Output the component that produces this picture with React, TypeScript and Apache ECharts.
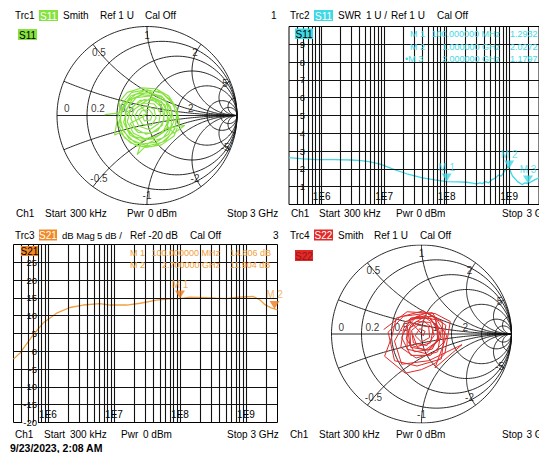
import React, { useEffect, useRef } from 'react';
import * as echarts from 'echarts';

// ---------- data ----------
const SWR_FREQ = [3e5, 5e5, 8.3e5, 1.6e6, 3e6, 4.3e6, 6e6, 8.6e6, 1.36e7, 2.4e7, 4.1e7, 6.5e7, 1e8, 1.5e8, 2.1e8, 2.6e8, 3e8, 3.4e8, 3.7e8, 4.2e8, 4.7e8, 5.3e8, 6e8, 6.7e8, 7.5e8, 8.5e8, 9.5e8, 1e9, 1.13e9, 1.35e9, 1.6e9, 1.8e9, 2e9, 2.3e9, 2.6e9, 3e9];
const SWR_VALUE = [2.63, 2.56, 2.52, 2.52, 2.5, 2.47, 2.4, 2.27, 2.0, 1.7, 1.5, 1.38, 1.29, 1.27, 1.25, 1.2, 1.16, 1.22, 1.17, 1.28, 1.22, 1.4, 1.48, 1.65, 1.6, 1.9, 2.15, 2.03, 1.6, 1.3, 1.12, 1.22, 1.18, 1.3, 1.4, 1.5];
const SWR_MARKER_FREQ = [1e8, 1e9, 2e9];
const SWR_MARKER_VALUE = [1.2932, 2.0272, 1.1797];

const S21_FREQ = [3e5, 3.8e5, 6e5, 8.5e5, 1.35e6, 2.15e6, 3.4e6, 6.1e6, 8.7e6, 1.56e7, 2.5e7, 4.4e7, 7.9e7, 1e8, 1.42e8, 2.5e8, 3.5e8, 5.1e8, 6.5e8, 8.1e8, 1.29e9, 1.63e9, 1.94e9, 2.18e9, 2.4e9, 2.7e9, 3e9];
const S21_DB = [-2.2, -0.4, 4.7, 8.0, 10.7, 12.3, 13.0, 13.4, 13.0, 13.0, 13.5, 14.4, 14.8, 14.806, 15.2, 15.1, 14.9, 14.8, 15.1, 15.2, 15.4, 14.4, 13.1, 12.6, 12.2, 11.904, 11.6];
const S21_MARKER_FREQ = [1e8, 2.7e9];
const S21_MARKER_DB = [14.806, 11.904];

const SWR_TICKS = [1, 2, 3, 4, 5, 6, 7, 8, 9];
const DB_TICKS = [-15, -10, -5, 0, 5, 10, 15, 20, 25];

const R_CIRCLES = [0.2, 0.5, 1, 2, 5, 10];
const X_ARCS = [0.2, 0.5, 1, 2, 5, 10];
const R_LABELS = ['0', '0.2', '0.5', '1', '2'];
const X_LABELS = ['0.5', '1', '2', '5', '-0.5', '-1', '-2', '-5'];

const S11_GAMMA = [
  [-0.47, 0.01], [-0.30, 0.03], [-0.31, 0.15], [-0.22, 0.26], [-0.06, 0.31], [0.10, 0.30], [0.24, 0.22], [0.33, 0.08], [0.36, -0.08], [0.30, -0.23], [0.16, -0.33], [-0.02, -0.36], [-0.18, -0.31], [-0.30, -0.19], [-0.36, -0.22], [-0.33, -0.04],
  [-0.29, 0.12], [-0.17, 0.26], [0.00, 0.29], [0.17, 0.25], [0.29, 0.13], [0.34, -0.03], [0.29, -0.19], [0.17, -0.30], [0.01, -0.34], [-0.14, -0.30], [-0.26, -0.18], [-0.30, -0.02],
  [-0.25, 0.14], [-0.12, 0.24], [0.04, 0.26], [0.19, 0.19], [0.27, 0.05], [0.27, -0.12], [0.18, -0.25], [0.03, -0.30], [-0.11, -0.44], [-0.06, -0.29], [-0.19, -0.22], [-0.26, -0.08],
  [-0.22, 0.08], [-0.12, 0.20], [0.03, 0.22], [0.16, 0.16], [0.23, 0.03], [0.22, -0.11], [0.30, -0.20], [0.42, -0.11], [0.20, -0.15], [0.12, -0.23], [-0.02, -0.26], [-0.15, -0.20], [-0.22, -0.07],
  [-0.18, 0.07], [-0.08, 0.17], [0.06, 0.18], [0.17, 0.09], [0.19, -0.05], [0.12, -0.17], [-0.01, -0.21], [-0.13, -0.15], [-0.18, -0.03],
  [-0.14, 0.07], [-0.04, 0.14], [0.08, 0.13], [0.15, 0.03], [0.13, -0.09], [0.03, -0.16], [-0.09, -0.12], [-0.14, -0.01],
  [-0.10, 0.06], [-0.01, 0.11], [0.08, 0.07], [0.10, -0.03], [0.05, -0.11], [-0.05, -0.10], [-0.10, -0.02],
  [-0.06, 0.05], [0.02, 0.07], [0.06, 0.02], [0.04, -0.05], [-0.03, -0.06], [-0.05, 0.00], [0.00, 0.02],
  [-0.08, 0.12], [0.05, 0.20], [0.20, 0.12], [0.24, -0.05], [0.17, -0.20], [0.02, -0.27], [-0.14, -0.24], [-0.24, -0.12], [-0.24, 0.05], [-0.16, 0.19], [0.00, 0.26], [0.16, 0.22], [0.26, 0.10], [0.30, -0.06], [0.24, -0.21], [0.10, -0.30], [-0.06, -0.32], [-0.20, -0.26],
  [-0.30, -0.10], [-0.28, 0.08], [-0.18, 0.22], [-0.02, 0.28], [0.14, 0.27], [0.27, 0.17], [0.33, 0.02], [0.31, -0.15], [0.21, -0.28], [0.05, -0.35], [-0.12, -0.34], [-0.25, -0.25], [-0.32, -0.10],
  [-0.27, 0.06], [-0.20, 0.17], [-0.06, 0.23], [0.09, 0.23], [0.21, 0.15], [0.26, -0.01], [0.21, -0.17], [0.08, -0.26], [-0.08, -0.28], [-0.21, -0.18], [-0.25, -0.03],
  [-0.16, 0.10], [-0.03, 0.18], [0.12, 0.16], [0.20, 0.05], [0.17, -0.11], [0.05, -0.20], [-0.10, -0.19], [-0.19, -0.09], [-0.02, 0.00],
];

const S22_GAMMA = [
  [-0.42, 0.05], [-0.16, 0.25], [0.15, 0.23], [0.32, 0.14], [0.26, -0.22], [0.15, -0.33], [0.00, -0.40], [-0.18, -0.44], [-0.41, -0.25], [-0.33, -0.03],
  [-0.28, 0.18], [0.02, 0.26], [0.27, 0.10], [0.22, -0.28], [-0.05, -0.36], [-0.30, -0.30], [-0.37, 0.02],
  [-0.20, 0.20], [0.12, 0.24], [0.28, -0.02], [0.15, -0.38], [0.45, -0.12], [0.08, -0.30], [-0.22, -0.34], [-0.30, -0.08],
  [-0.18, 0.14], [0.05, 0.21], [0.22, 0.05], [0.18, -0.20], [-0.06, -0.27], [-0.23, -0.15], [-0.20, 0.06],
  [-0.10, 0.17], [0.10, 0.18], [0.20, 0.00], [0.12, -0.17], [-0.08, -0.20], [-0.17, -0.05],
  [-0.12, 0.10], [0.03, 0.19], [0.17, 0.10], [0.18, -0.08], [0.04, -0.18], [-0.13, -0.12], [-0.15, 0.04],
  [-0.06, 0.14], [0.10, 0.13], [0.14, -0.02], [0.06, -0.13], [-0.09, -0.10], [-0.11, 0.04],
  [-0.04, 0.10], [0.08, 0.08], [0.09, -0.04], [0.00, -0.09], [-0.07, -0.02], [-0.02, 0.06], [0.04, 0.03], [0.02, -0.02],
  [-0.14, 0.16], [0.06, 0.24], [0.23, 0.14], [0.24, -0.10], [0.10, -0.24], [-0.12, -0.24], [-0.22, -0.04], [-0.12, 0.18], [0.14, 0.20], [0.22, -0.04], [0.05, -0.22], [-0.16, -0.17], [-0.16, 0.08],
  [-0.05, 0.20], [0.16, 0.16], [0.19, -0.06], [0.07, -0.18], [-0.12, -0.15], [-0.13, 0.07], [0.02, 0.15], [0.13, 0.06], [0.10, -0.10], [-0.05, -0.14], [-0.10, 0.00],
];

// ---------- style ----------
const FONT = 'Liberation Sans, Arial, sans-serif';
const GREEN = '#86e23e';
const CYAN = '#3fd9e6';
const ORANGE = '#f0a040';
const ORANGE_M = '#f07a18';
const RED = '#e02a2a';
const GRIDC = '#111111';

const TWO_PI = Math.PI * 2;
function arcPts(cx: number, cy: number, r: number, a0: number, a1: number, n: number) {
  const pts: number[][] = [];
  for (let i = 0; i <= n; i++) {
    const a = a0 + ((a1 - a0) * i) / n;
    pts.push([cx + r * Math.cos(a), cy + r * Math.sin(a)]);
  }
  return pts;
}

function smithGrid(idx: number) {
  const base = {
    type: 'line', xAxisIndex: idx, yAxisIndex: idx, showSymbol: false, symbol: 'none',
    silent: true, z: 1, lineStyle: { color: GRIDC, width: 0.9 },
  };
  const curves: number[][][] = [];
  curves.push(arcPts(0, 0, 1, 0, TWO_PI, 220));
  R_CIRCLES.forEach((r) => curves.push(arcPts(r / (1 + r), 0, 1 / (1 + r), 0, TWO_PI, 140)));
  X_ARCS.forEach((x) => {
    const gx = (x * x - 1) / (x * x + 1);
    const gy = (2 * x) / (x * x + 1);
    let a0 = Math.atan2(gy - 1 / x, gx - 1);
    if (a0 < 0) a0 += TWO_PI;
    const p = arcPts(1, 1 / x, 1 / x, a0, 1.5 * Math.PI, 100);
    curves.push(p);
    curves.push(p.map(([a, b]) => [a, -b]));
  });
  curves.push([[-1, 0], [1, 0]]);
  return curves.map((c) => ({ ...base, data: c }));
}

function smithLabels(idx: number) {
  const rVals = R_LABELS.map(Number);
  const rDx = [7, 4, 3, 11, 11];
  const data: any[] = [];
  rVals.forEach((r, i) => {
    data.push({
      value: [(r - 1) / (r + 1), 0],
      label: { formatter: R_LABELS[i], position: [rDx[i], -2], align: 'left', verticalAlign: 'bottom' },
    });
  });
  const kArr = [0.89, 0.9, 0.89, 0.94];
  X_LABELS.forEach((s, i) => {
    const xv = Number(s);
    const ax = Math.abs(xv);
    const gx = (ax * ax - 1) / (ax * ax + 1);
    const gy = ((2 * ax) / (ax * ax + 1)) * Math.sign(xv);
    const k = kArr[i % 4];
    data.push({
      value: [gx * k, gy * k],
      label: { formatter: s, position: [0, 0], align: 'center', verticalAlign: 'middle' },
    });
  });
  return {
    type: 'scatter', xAxisIndex: idx, yAxisIndex: idx, symbolSize: 0, silent: true, z: 2,
    label: { show: true, color: '#000', fontSize: 10, fontFamily: FONT },
    data,
  };
}

const V_LINES: number[] = [];
for (let e = 5; e <= 9; e++) {
  for (let m = 1; m <= 9; m++) {
    const f = m * Math.pow(10, e);
    if (f > 3e5 && f < 3e9) V_LINES.push(f);
  }
}

function logGridLines(idx: number, hVals: number[]) {
  return {
    type: 'line', xAxisIndex: idx, yAxisIndex: idx, data: [], silent: true, z: 1,
    markLine: {
      silent: true, symbol: ['none', 'none'], animation: false,
      label: { show: false },
      lineStyle: { color: GRIDC, width: 1.1, type: 'solid' },
      emphasis: { disabled: true },
      data: [...V_LINES.map((f) => ({ xAxis: f })), ...hVals.map((v) => ({ yAxis: v }))],
    },
  };
}

function decadeLabel(v: number) {
  const e = Math.log10(v);
  return Math.abs(e - Math.round(e)) < 1e-6 ? '1E' + Math.round(e) : '';
}

function logXAxis(idx: number) {
  return {
    type: 'log', gridIndex: idx, min: 3e5, max: 3e9, logBase: 10, z: 3,
    axisLine: { show: false }, axisTick: { show: false }, splitLine: { show: false },
    axisLabel: {
      inside: true, margin: 3, interval: 0, showMinLabel: false, showMaxLabel: false,
      formatter: decadeLabel, color: '#000', fontSize: 10, fontFamily: FONT,
      backgroundColor: '#fff', padding: [1, 1, 0, 1],
    },
  };
}

function fmtFreq(f: number) {
  if (f >= 1e9) return (f / 1e9).toFixed(6) + ' GHz';
  return (f / 1e6).toFixed(6) + ' MHz';
}

function txt(x: number, y: number, text: string, fill = '#000', extra: any = {}) {
  const size = extra.size || 10;
  return {
    type: 'text', x, y, z: 20,
    style: {
      text, fill,
      font: `${extra.weight ? 'bold ' : ''}${size}px ${FONT}`,
      textAlign: extra.align || 'left',
      textVerticalAlign: 'middle',
    },
  };
}
function box(x: number, y: number, w: number, h: number, fill: string, text: string, color: string) {
  return [
    { type: 'rect', z: 19, shape: { x, y, width: w, height: h }, style: { fill } },
    txt(x + w / 2, y + h / 2 + 0.5, text, color, { align: 'center' }),
  ];
}

export default function App() {
  const ref = useRef<HTMLDivElement>(null);
  useEffect(() => {
    if (!ref.current) return;
    const chart = echarts.init(ref.current, null, { renderer: 'svg' });

    const markerNames = ['M 1', 'M 2', 'M 3'];
    const graphics: any[] = [];
    // headers
    graphics.push(txt(15, 15.5, 'Trc1'), ...box(39, 10, 19, 11, GREEN, 'S11', '#fff'), txt(63, 15.5, 'Smith'), txt(100, 15.5, 'Ref 1 U'), txt(145, 15.5, 'Cal Off'), txt(271, 15.5, '1'));
    graphics.push(...box(18, 29, 19, 11, GREEN, 'S11', '#000'));
    graphics.push(txt(290, 15.5, 'Trc2'), ...box(314, 10, 19, 11, CYAN, 'S11', '#fff'), txt(338, 15.5, 'SWR'), txt(366, 15.5, '1 U /'), txt(391, 15.5, 'Ref 1 U'), txt(437, 15.5, 'Cal Off'));
    graphics.push(...box(295, 28.5, 18, 10.5, CYAN, 'S11', '#000'));
    graphics.push(txt(15, 235, 'Trc3'), ...box(39, 229.5, 18, 11, '#f08a28', 'S21', '#fff'), txt(62, 235, 'dB Mag', '#000', { size: 9.5 }), txt(97, 235, '5 dB /', '#000', { size: 9.5 }), txt(130, 235, 'Ref -20 dB'), txt(190, 235, 'Cal Off'), txt(273, 235, '3'));
    graphics.push(...box(21, 246, 17, 10, '#f08a28', 'S21', '#000'));
    graphics.push(txt(290, 235, 'Trc4'), ...box(314, 229.5, 19, 11, RED, 'S22', '#fff'), txt(338, 235, 'Smith'), txt(374, 235, 'Ref 1 U'), txt(420, 235, 'Cal Off'));
    graphics.push(...box(295, 250, 18, 11, RED, 'S22', '#a01010'));
    // footers
    const foot = (y: number, xs: number[]) => [
      txt(xs[0], y, 'Ch1'), txt(xs[1], y, 'Start'), txt(xs[2], y, '300 kHz'), txt(xs[3], y, 'Pwr'), txt(xs[4], y, '0 dBm'), txt(xs[5], y, 'Stop'), txt(xs[6], y, '3 GHz'),
    ];
    graphics.push(...foot(213.5, [16, 45, 70, 127, 148, 227, 250]));
    graphics.push(...foot(213.5, [291, 319, 344, 396, 416.5, 502, 526.5]));
    graphics.push(...foot(434, [15, 44, 70, 121, 143, 227, 250.5]));
    graphics.push(...foot(434, [290, 319, 343, 396, 416.5, 502, 526.5]));
    graphics.push(txt(10, 448, '9/23/2023, 2:08 AM', '#000', { weight: 'bold', size: 10.5 }));
    // marker info
    const swrRows = [34, 46.5, 59];
    SWR_MARKER_FREQ.forEach((f, i) => {
      graphics.push(txt(i === 2 ? 405 : 410, swrRows[i], (i === 2 ? '\u2022' : '') + markerNames[i], CYAN, { size: 9 }));
      graphics.push(txt(500, swrRows[i], fmtFreq(f), CYAN, { size: 9, align: 'right' }));
      graphics.push(txt(510, swrRows[i], SWR_MARKER_VALUE[i].toFixed(4), CYAN, { size: 9 }));
    });
    const dbRows = [252.7, 265];
    S21_MARKER_FREQ.forEach((f, i) => {
      graphics.push(txt(130, dbRows[i], markerNames[i], ORANGE, { size: 9 }));
      graphics.push(txt(220, dbRows[i], fmtFreq(f), ORANGE, { size: 9, align: 'right' }));
      graphics.push(txt(230, dbRows[i], S21_MARKER_DB[i].toFixed(3) + ' dB', ORANGE, { size: 9 }));
    });

    const markerSeries = (idx: number, pts: number[][], color: string, labelColor: string) => ({
      type: 'scatter', xAxisIndex: idx, yAxisIndex: idx, z: 6, silent: true,
      symbol: 'triangle', symbolRotate: 180, symbolSize: [10, 8], symbolOffset: [0, -4],
      itemStyle: { color },
      label: {
        show: true, position: 'top', distance: 1, color: labelColor, fontSize: 10, fontFamily: FONT,
        formatter: (p: any) => markerNames[p.dataIndex],
      },
      data: pts,
    });

    const option: any = {
      animation: false,
      backgroundColor: '#fff',
      grid: [
        { left: 57, top: 26.5, width: 180, height: 178, show: false },
        { left: 289, top: 26.5, width: 264, height: 178, show: true, borderColor: '#000', borderWidth: 1, backgroundColor: 'transparent' },
        { left: 13.5, top: 244.5, width: 264, height: 178, show: true, borderColor: '#000', borderWidth: 1, backgroundColor: 'transparent' },
        { left: 331.5, top: 245, width: 180, height: 178, show: false },
      ],
      xAxis: [
        { type: 'value', gridIndex: 0, min: -1, max: 1, show: false },
        logXAxis(1),
        logXAxis(2),
        { type: 'value', gridIndex: 3, min: -1, max: 1, show: false },
      ],
      yAxis: [
        { type: 'value', gridIndex: 0, min: -1, max: 1, show: false },
        {
          type: 'value', gridIndex: 1, min: 0, max: 10, interval: 1, z: 3,
          axisLine: { show: false }, axisTick: { show: false }, splitLine: { show: false },
          axisLabel: {
            inside: true, margin: 17, align: 'right', showMinLabel: false, showMaxLabel: false,
            formatter: (v: number) => (SWR_TICKS.includes(v) ? String(v) : ''),
            color: '#000', fontSize: 9.5, fontFamily: FONT, backgroundColor: '#fff', padding: [1, 1],
          },
        },
        {
          type: 'value', gridIndex: 2, min: -20, max: 30, interval: 5, z: 3,
          axisLine: { show: false }, axisTick: { show: false }, splitLine: { show: false },
          axisLabel: {
            inside: true, margin: 24.5, align: 'right', showMaxLabel: false,
            formatter: (v: number) => (v === -20 || DB_TICKS.includes(v) ? String(v) : ''),
            color: '#000', fontSize: 9.5, fontFamily: FONT, backgroundColor: '#fff', padding: [0, 1],
          },
        },
        { type: 'value', gridIndex: 3, min: -1, max: 1, show: false },
      ],
      graphic: { elements: graphics },
      series: [
        ...smithGrid(0),
        smithLabels(0),
        ...smithGrid(3),
        smithLabels(3),
        logGridLines(1, SWR_TICKS),
        logGridLines(2, DB_TICKS),
        {
          type: 'line', xAxisIndex: 0, yAxisIndex: 0, z: 4, silent: true, showSymbol: false, symbol: 'none',
          lineStyle: { color: GREEN, width: 1.1 }, data: S11_GAMMA,
        },
        {
          type: 'line', xAxisIndex: 3, yAxisIndex: 3, z: 4, silent: true, showSymbol: false, symbol: 'none',
          lineStyle: { color: RED, width: 1 }, data: S22_GAMMA,
        },
        {
          type: 'line', xAxisIndex: 1, yAxisIndex: 1, z: 4, silent: true, showSymbol: false, symbol: 'none',
          lineStyle: { color: CYAN, width: 1.3 }, data: SWR_FREQ.map((f, i) => [f, SWR_VALUE[i]]),
        },
        {
          type: 'line', xAxisIndex: 2, yAxisIndex: 2, z: 4, silent: true, showSymbol: false, symbol: 'none',
          lineStyle: { color: ORANGE, width: 1.3 }, data: S21_FREQ.map((f, i) => [f, S21_DB[i]]),
        },
        markerSeries(1, SWR_MARKER_FREQ.map((f, i) => [f, SWR_MARKER_VALUE[i]]), CYAN, CYAN),
        markerSeries(2, S21_MARKER_FREQ.map((f, i) => [f, S21_MARKER_DB[i]]), ORANGE_M, ORANGE),
      ],
    };
    chart.setOption(option);
    return () => chart.dispose();
  }, []);
  return <div ref={ref} style={{ position: 'fixed', left: 0, top: 0, width: 539, height: 453 }} />;
}
